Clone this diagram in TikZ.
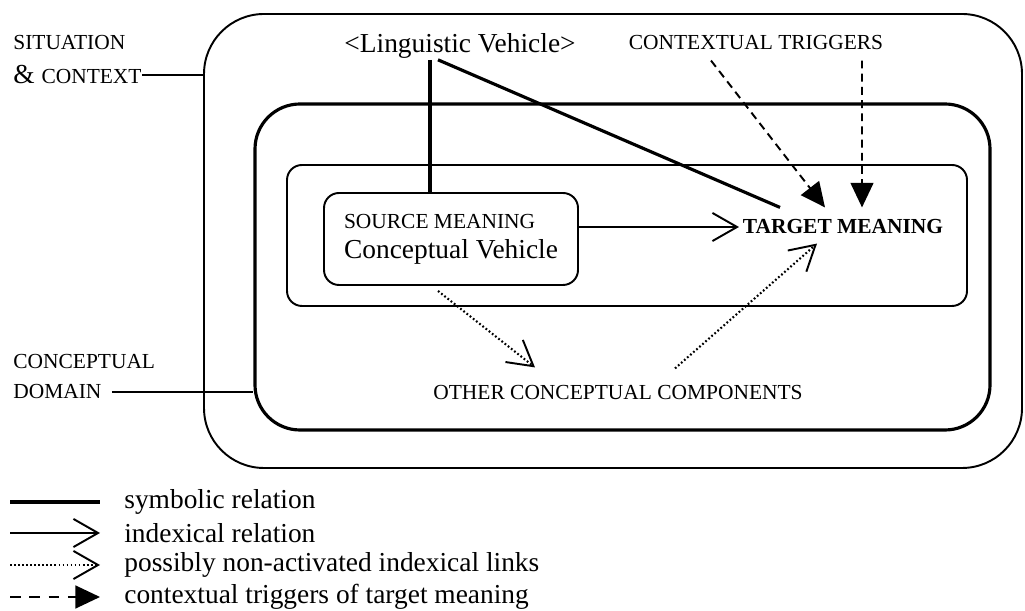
\documentclass[tikz,border=0pt]{standalone}
\usepackage{fontspec}
\setmainfont{Liberation Serif}
\usetikzlibrary{arrows.meta}

\newcommand{\txtfont}{\fontsize{15.6}{17}\selectfont}
\newcommand{\capfont}{\fontsize{12.2}{14}\selectfont}

\begin{document}
\begin{tikzpicture}[
    font=\txtfont,
    box/.style={draw, line width=1.1pt, rounded corners=0.3cm, inner sep=0pt},
    side/.style={anchor=west, inner sep=0pt},
    symbolic/.style={line width=1.8pt},
    indexical/.style={line width=1.1pt, -{Straight Barb[length=14pt, width=16pt, line width=1.1pt]}},
    possible/.style={line width=1.2pt, dash pattern=on 1pt off 1.3pt, -{Straight Barb[length=14pt, width=16pt, line width=1.1pt, sep=0pt]}},
    trigger/.style={line width=1.1pt, dash pattern=on 4.5pt off 3pt, -{Triangle[length=14pt, width=13pt]}},
]
    \useasboundingbox (0, 0) rectangle (20.5, 12.22);
    % frames
    \node [box, rounded corners=1.2cm, minimum width=16.36cm, minimum height=9.08cm] (situation) at (12.26, 7.40) {};
    \node [box, line width=1.8pt, rounded corners=0.9cm, minimum width=14.7cm, minimum height=6.52cm] (domain) at (12.45, 6.88) {};
    \node [box, minimum width=13.6cm, minimum height=2.82cm] (frame) at (12.54, 7.51) {};
    \node [box, minimum width=5.08cm, minimum height=1.84cm, align=left] (source) at (9.02, 7.44) {{\capfont SOURCE MEANING}\\Conceptual Vehicle};
    % side labels
    \node [side, font=\capfont] (situ) at (0.26, 11.36) {SITUATION};
    \node [side] (ctx) at (0.26, 10.72) {\& {\capfont CONTEXT}};
    \node [side, font=\capfont] (concept) at (0.26, 4.98) {CONCEPTUAL};
    \node [side, font=\capfont] (dom) at (0.26, 4.38) {DOMAIN};
    \draw [line width=0.8pt] (ctx.east) to (ctx.east -| situation.west);
    \draw [line width=0.8pt] ([xshift=0.2cm]dom.east) to (dom.east -| domain.west);
    % vehicle and meanings
    \node [inner sep=2pt] (ling) at (9.2, 11.31) {<Linguistic Vehicle>};
    \node [inner sep=2pt, font=\capfont] (cues) at (15.12, 11.36) {CONTEXTUAL TRIGGERS};
    \node [inner sep=2pt, font=\capfont\bfseries] (target) at (16.86, 7.68) {TARGET MEANING};
    \node [inner sep=2pt, font=\capfont] (other) at (12.36, 4.36) {OTHER CONCEPTUAL COMPONENTS};
    % symbolic relations
    \coordinate (lingfoot) at ([xshift=-0.6cm, yshift=0.04cm]ling.south);
    \draw [symbolic] (lingfoot) to (lingfoot |- source.north);
    \draw [symbolic] ([xshift=-0.44cm, yshift=0.04cm]ling.south) to ([xshift=-1.26cm, yshift=0.17cm]target.north);
    % indexical relation
    \draw [indexical] (source.east |- target.west) to (target.west);
    % contextual triggers
    \draw [trigger] ([xshift=-0.9cm, yshift=-0.13cm]cues.south) to ([xshift=-0.36cm, yshift=0.17cm]target.north);
    \draw [trigger] ([xshift=2.12cm, yshift=-0.13cm]cues.south) to ([xshift=0.38cm, yshift=0.17cm]target.north);
    % possibly non-activated links
    \draw [possible] ([xshift=-0.26cm, yshift=-0.1cm]source.south) to ([xshift=-1.66cm, yshift=0.29cm]other.north);
    \draw [possible] ([xshift=1.14cm, yshift=0.27cm]other.north) to ([xshift=-0.52cm, yshift=-0.11cm]target.south);
    % legend
    \coordinate (k1) at (0.2, 2.18);
    \coordinate (k2) at (0.2, 1.56);
    \coordinate (k3) at (0.2, 0.92);
    \coordinate (k4) at (0.2, 0.28);
    \node [side] (key1) at (2.48, 2.18) {symbolic relation};
    \node [side] (key2) at (2.48, 1.56) {indexical relation};
    \node [side] (key3) at (2.48, 0.92) {possibly non-activated indexical links};
    \node [side] (key4) at (2.48, 0.28) {contextual triggers of target meaning};
    \draw [symbolic, shorten >=0.48cm] (k1) to (key1.west);
    \draw [indexical, shorten >=0.48cm] (k2) to (key2.west);
    \draw [possible, shorten >=0.48cm] (k3) to (key3.west);
    \draw [trigger, dash pattern=on 6pt off 5pt, shorten >=0.48cm] (k4) to (key4.west);
\end{tikzpicture}
\end{document}
